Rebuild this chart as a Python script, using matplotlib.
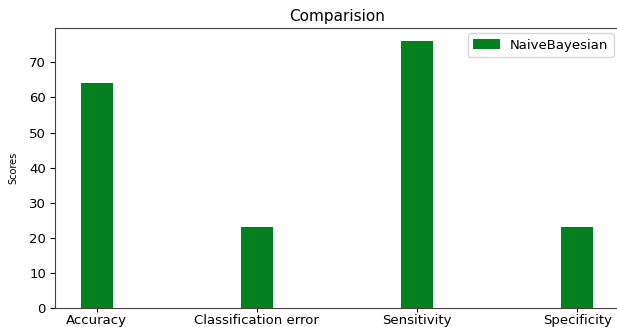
import numpy as np
import matplotlib
matplotlib.use("Agg")
import matplotlib.pyplot as plt

metrics = ["Accuracy", "Classification error", "Sensitivity", "Specificity"]
naive_bayes = [64, 23, 76, 23]

plt.rcParams["font.size"] = 9.5

fig = plt.figure(figsize=(6.17, 3.27), dpi=100)
ax = fig.add_axes([55 / 617, 19 / 327, 564 / 617, 280 / 327])

x = np.arange(len(metrics))
ax.bar(x, naive_bayes, width=0.2, color="#03801f", label="NaiveBayesian")
ax.set_xticks(x)
ax.set_xticklabels(metrics)
ax.tick_params(axis="x", length=3, pad=1.5)
ax.tick_params(axis="y", length=3.5, pad=3)
ax.set_ylabel("Scores", fontsize=7, labelpad=8)
ax.set_title("Comparision", fontsize=11, pad=5)
ax.legend(loc="upper right", fontsize=9.5, borderaxespad=0.4)

for s in ax.spines.values():
    s.set_color("#444444")

plt.savefig("out.png", dpi=100)
